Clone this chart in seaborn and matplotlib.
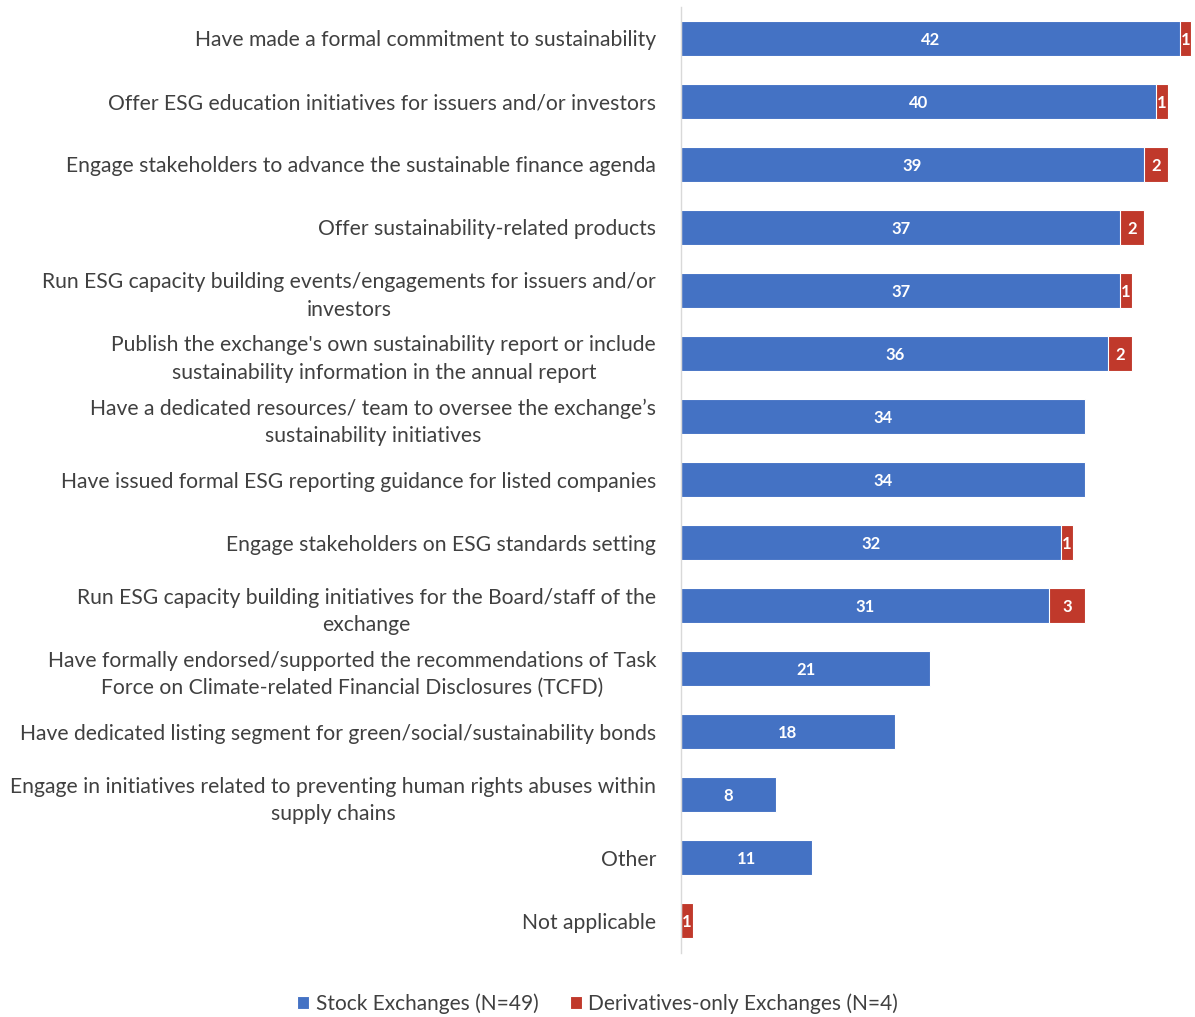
import pandas as pd
import matplotlib.pyplot as plt
import seaborn as sns

categories = [
    "Have made a formal commitment to sustainability",
    "Offer ESG education initiatives for issuers and/or investors",
    "Engage stakeholders to advance the sustainable finance agenda",
    "Offer sustainability-related products",
    "Run ESG capacity building events/engagements for issuers and/or\ninvestors",
    "Publish the exchange's own sustainability report or include\nsustainability information in the annual report",
    "Have a dedicated resources/ team to oversee the exchange\u2019s\nsustainability initiatives",
    "Have issued formal ESG reporting guidance for listed companies",
    "Engage stakeholders on ESG standards setting",
    "Run ESG capacity building initiatives for the Board/staff of the\nexchange",
    "Have formally endorsed/supported the recommendations of Task\nForce on Climate-related Financial Disclosures (TCFD)",
    "Have dedicated listing segment for green/social/sustainability bonds",
    "Engage in initiatives related to preventing human rights abuses within\nsupply chains",
    "Other",
    "Not applicable",
]
stock = [42, 40, 39, 37, 37, 36, 34, 34, 32, 31, 21, 18, 8, 11, 0]
deriv = [1, 1, 2, 2, 1, 2, 0, 0, 1, 3, 0, 0, 0, 0, 1]

blue = "#4472C4"
red = "#C0392B"
grey = "#404040"

df = pd.DataFrame({"cat": categories, "stock": stock, "deriv": deriv})
df["total"] = df["stock"] + df["deriv"]

sns.set_style("white")
plt.rcParams["font.family"] = ["Lato", "DejaVu Sans"]

fig = plt.figure(figsize=(11.95, 10.17), dpi=100)
ax = fig.add_axes([0.570, 0.0634, 0.428, 0.9302])

# total first (red), stock on top (blue) -> stacked look
sns.barplot(data=df, y="cat", x="total", color=red, width=0.555,
            edgecolor="white", linewidth=0.8, saturation=1, ax=ax,
            label="Derivatives-only Exchanges (N=4)")
sns.barplot(data=df, y="cat", x="stock", color=blue, width=0.555,
            edgecolor="white", linewidth=0.8, saturation=1, ax=ax,
            label="Stock Exchanges (N=49)")

for i, r in df.iterrows():
    if r["stock"] > 0:
        ax.text(r["stock"] / 2, i, str(r["stock"]), ha="center", va="center_baseline",
                color="white", fontsize=12, fontweight="bold")
    if r["deriv"] > 0:
        ax.text(r["stock"] + r["deriv"] / 2, i, str(r["deriv"]), ha="center",
                va="center_baseline", color="white", fontsize=12, fontweight="bold")

ax.set_xlim(0, 43.1)
ax.set_ylim(14.5, -0.5)
ax.set_xlabel("")
ax.set_ylabel("")
ax.set_xticks([])
ax.tick_params(axis="y", length=0, pad=18, labelsize=15.2, labelcolor=grey)
for lab in ax.get_yticklabels():
    lab.set_multialignment("center")
    lab.set_linespacing(1.45)
for s in ["top", "right", "bottom"]:
    ax.spines[s].set_visible(False)
ax.spines["left"].set_color("#d9d9d9")
ax.spines["left"].set_linewidth(1)

handles, labels = ax.get_legend_handles_labels()
ax.legend(handles[::-1], labels[::-1], loc="center", bbox_to_anchor=(0.5, 0.013),
          bbox_transform=fig.transFigure, ncol=2, frameon=False, fontsize=15,
          labelcolor=grey, handlelength=0.6, handleheight=0.6, handletextpad=0.3,
          columnspacing=1.5)

fig.savefig("out.png", dpi=100)
